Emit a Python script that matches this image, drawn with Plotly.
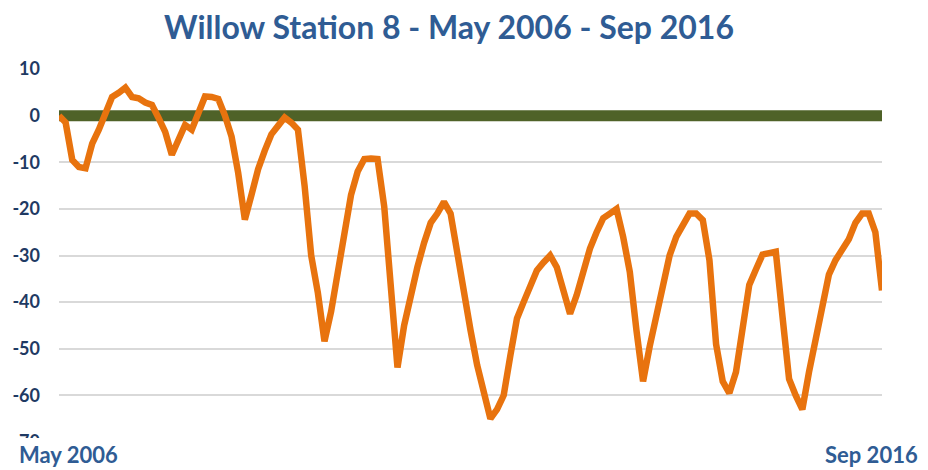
import pandas as pd
import plotly.graph_objects as go

months = [d.strftime("%b %Y") for d in pd.date_range("2006-05-01", "2016-09-01", freq="MS")]

values = [
    0, -1.5, -9.5, -11, -11.3, -6, -3, 1, 4, 4.9,
    6, 4, 3.7, 2.8, 2.3, -0.5, -3.5, -8.4, -5, -2,
    -3, 0.7, 4.1, 4, 3.6, 0, -4.5, -12.3, -22.3, -17,
    -11.5, -7.5, -4, -2.2, -0.4, -1.5, -3, -15, -30, -38,
    -48.4, -42, -33.5, -25, -17, -12, -9.3, -9.2, -9.3, -19.5,
    -39, -54, -45, -38.5, -32.5, -27.3, -23, -21, -18.5, -21,
    -30, -38, -46, -53.5, -60, -65, -63, -60, -51.5, -43.5,
    -40, -36.8, -33.2, -31.5, -30, -32.5, -37.4, -42.5, -38.5, -33.5,
    -28.5, -25, -22, -21, -20, -26, -33.5, -46, -57, -49.5,
    -42.7, -35.4, -30, -26, -23.4, -21, -21, -22.4, -31, -49,
    -57, -59.5, -55, -45, -36.3, -33, -29.8, -29.5, -29.2, -43,
    -56.5, -60, -63, -55, -48, -41, -34.1, -31, -29, -26.5,
    -23, -21, -21, -25, -37.5,
]
baseline = [0] * len(months)

y_ticks = [10, 0, -10, -20, -30, -40, -50, -60, -70]
title_text = "Willow Station 8 - May 2006 - Sep 2016"
start_label = "May 2006"
end_label = "Sep 2016"

W, H = 928, 470
L, R, T, B = 57, 46, 69, 28

fig = go.Figure()
fig.add_trace(go.Scatter(x=months, y=baseline, mode="lines",
                         line=dict(color="#4F6228", width=11), hoverinfo="skip"))
fig.add_trace(go.Scatter(x=months, y=values, mode="lines",
                         line=dict(color="#E8730E", width=6.5)))

fig.update_layout(
    width=W, height=H,
    margin=dict(l=L, r=R, t=T, b=B),
    paper_bgcolor="white", plot_bgcolor="white",
    showlegend=False,
    title=dict(text=title_text, x=449 / W, xanchor="center", y=1 - 28 / H, yanchor="middle",
               font=dict(family="Lato", size=32, color="#2F5C94", weight="bold")),
    xaxis=dict(type="category", range=[0, len(months) - 1], showticklabels=False,
               showgrid=False, zeroline=False, showline=False, ticks=""),
    yaxis=dict(range=[-70, 10], tickvals=y_ticks, ticktext=[str(v) for v in y_ticks],
               showgrid=True, gridcolor="#D9D9D9", gridwidth=1.5, zeroline=False,
               showline=False, ticks="", ticklabelstandoff=18,
               tickfont=dict(family="Lato", size=18, color="#1F3A63", weight="bold")),
    shapes=[dict(type="rect", xref="paper", yref="paper", layer="above",
                 x0=-0.1, x1=1.1, y0=-0.1, y1=(442 - 438) / 373,
                 fillcolor="white", line=dict(width=0))],
    annotations=[
        dict(text=start_label, xref="paper", yref="paper", x=(15 - L) / 825, xanchor="left",
             y=-0.033, yanchor="middle", showarrow=False,
             font=dict(family="Lato", size=22, color="#2F5C94", weight="bold")),
        dict(text=end_label, xref="paper", yref="paper", x=(920 - L) / 825, xanchor="right",
             y=-0.033, yanchor="middle", showarrow=False,
             font=dict(family="Lato", size=22, color="#2F5C94", weight="bold")),
    ],
)

fig.write_html("out.html")
